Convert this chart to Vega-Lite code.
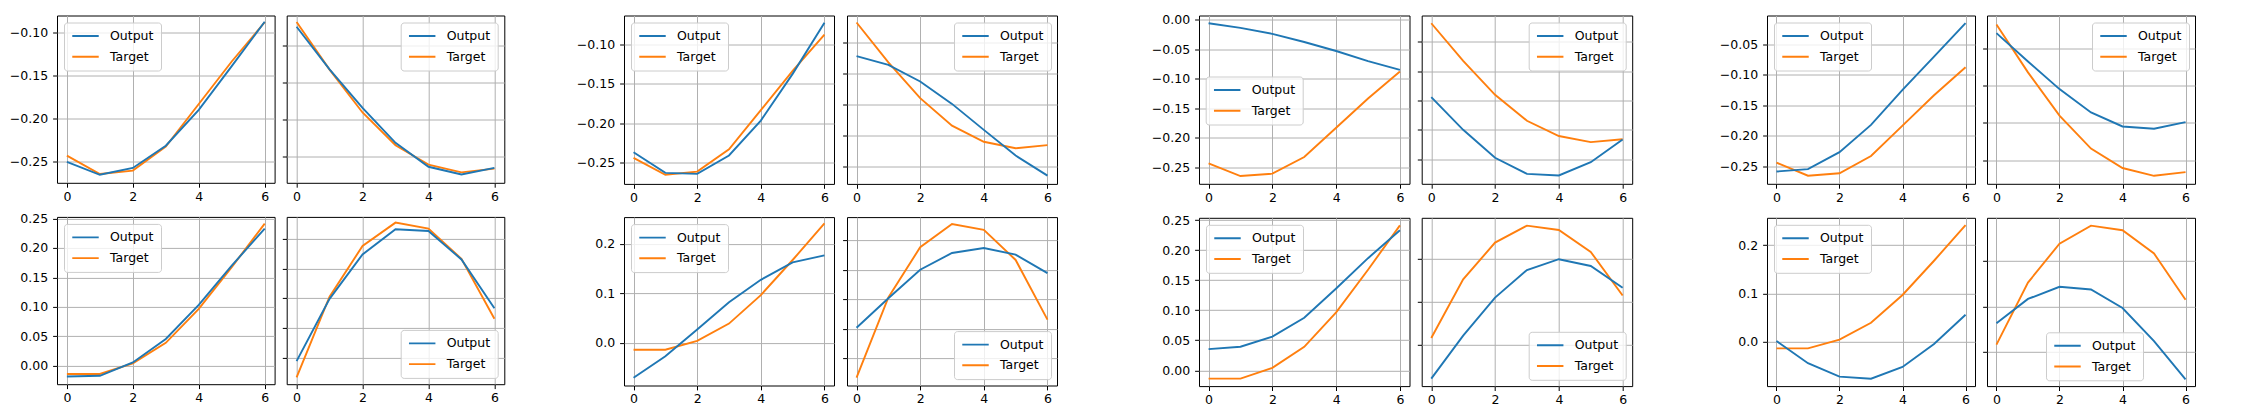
{
"$schema": "https://vega.github.io/schema/vega-lite/v6.json",
"padding": {"left": 0, "top": 12.5, "right": 5, "bottom": 5},
"data": {"values": [
{"g":0,"p":"TL","s":"Target","x":0,"y":-0.2437},{"g":0,"p":"TL","s":"Target","x":1,"y":-0.2651},{"g":0,"p":"TL","s":"Target","x":2,"y":-0.2611},{"g":0,"p":"TL","s":"Target","x":3,"y":-0.2329},{"g":0,"p":"TL","s":"Target","x":4,"y":-0.1832},{"g":0,"p":"TL","s":"Target","x":5,"y":-0.1335},{"g":0,"p":"TL","s":"Target","x":6,"y":-0.0876},
{"g":0,"p":"TR","s":"Target","x":0,"y":-0.0183},{"g":0,"p":"TR","s":"Target","x":1,"y":-0.0825},{"g":0,"p":"TR","s":"Target","x":2,"y":-0.1403},{"g":0,"p":"TR","s":"Target","x":3,"y":-0.1845},{"g":0,"p":"TR","s":"Target","x":4,"y":-0.2106},{"g":0,"p":"TR","s":"Target","x":5,"y":-0.221},{"g":0,"p":"TR","s":"Target","x":6,"y":-0.216},
{"g":0,"p":"BL","s":"Target","x":0,"y":-0.0139},{"g":0,"p":"BL","s":"Target","x":1,"y":-0.0139},{"g":0,"p":"BL","s":"Target","x":2,"y":0.0041},{"g":0,"p":"BL","s":"Target","x":3,"y":0.039},{"g":0,"p":"BL","s":"Target","x":4,"y":0.0966},{"g":0,"p":"BL","s":"Target","x":5,"y":0.1675},{"g":0,"p":"BL","s":"Target","x":6,"y":0.2413},
{"g":0,"p":"BR","s":"Target","x":0,"y":-0.0336},{"g":0,"p":"BR","s":"Target","x":1,"y":0.103},{"g":0,"p":"BR","s":"Target","x":2,"y":0.1887},{"g":0,"p":"BR","s":"Target","x":3,"y":0.2283},{"g":0,"p":"BR","s":"Target","x":4,"y":0.2182},{"g":0,"p":"BR","s":"Target","x":5,"y":0.167},{"g":0,"p":"BR","s":"Target","x":6,"y":0.0654},
{"g":1,"p":"TL","s":"Output","x":0,"y":-0.251},{"g":1,"p":"TL","s":"Output","x":1,"y":-0.266},{"g":1,"p":"TL","s":"Output","x":2,"y":-0.258},{"g":1,"p":"TL","s":"Output","x":3,"y":-0.232},{"g":1,"p":"TL","s":"Output","x":4,"y":-0.19},{"g":1,"p":"TL","s":"Output","x":5,"y":-0.139},{"g":1,"p":"TL","s":"Output","x":6,"y":-0.087},
{"g":1,"p":"TR","s":"Output","x":0,"y":-0.0248},{"g":1,"p":"TR","s":"Output","x":1,"y":-0.0823},{"g":1,"p":"TR","s":"Output","x":2,"y":-0.134},{"g":1,"p":"TR","s":"Output","x":3,"y":-0.1812},{"g":1,"p":"TR","s":"Output","x":4,"y":-0.2135},{"g":1,"p":"TR","s":"Output","x":5,"y":-0.2239},{"g":1,"p":"TR","s":"Output","x":6,"y":-0.2149},
{"g":1,"p":"BL","s":"Output","x":0,"y":-0.0182},{"g":1,"p":"BL","s":"Output","x":1,"y":-0.017},{"g":1,"p":"BL","s":"Output","x":2,"y":0.0057},{"g":1,"p":"BL","s":"Output","x":3,"y":0.0455},{"g":1,"p":"BL","s":"Output","x":4,"y":0.1034},{"g":1,"p":"BL","s":"Output","x":5,"y":0.17},{"g":1,"p":"BL","s":"Output","x":6,"y":0.233},
{"g":1,"p":"BR","s":"Output","x":0,"y":-0.0062},{"g":1,"p":"BR","s":"Output","x":1,"y":0.0992},{"g":1,"p":"BR","s":"Output","x":2,"y":0.1745},{"g":1,"p":"BR","s":"Output","x":3,"y":0.217},{"g":1,"p":"BR","s":"Output","x":4,"y":0.2142},{"g":1,"p":"BR","s":"Output","x":5,"y":0.166},{"g":1,"p":"BR","s":"Output","x":6,"y":0.0833},
{"g":2,"p":"TL","s":"Output","x":0,"y":-0.2365},{"g":2,"p":"TL","s":"Output","x":1,"y":-0.2627},{"g":2,"p":"TL","s":"Output","x":2,"y":-0.264},{"g":2,"p":"TL","s":"Output","x":3,"y":-0.2407},{"g":2,"p":"TL","s":"Output","x":4,"y":-0.1964},{"g":2,"p":"TL","s":"Output","x":5,"y":-0.1372},{"g":2,"p":"TL","s":"Output","x":6,"y":-0.0725},
{"g":2,"p":"TR","s":"Output","x":0,"y":-0.0726},{"g":2,"p":"TR","s":"Output","x":1,"y":-0.0866},{"g":2,"p":"TR","s":"Output","x":2,"y":-0.1134},{"g":2,"p":"TR","s":"Output","x":3,"y":-0.1495},{"g":2,"p":"TR","s":"Output","x":4,"y":-0.1914},{"g":2,"p":"TR","s":"Output","x":5,"y":-0.2328},{"g":2,"p":"TR","s":"Output","x":6,"y":-0.2651},
{"g":2,"p":"BL","s":"Output","x":0,"y":-0.0705},{"g":2,"p":"BL","s":"Output","x":1,"y":-0.0271},{"g":2,"p":"BL","s":"Output","x":2,"y":0.0271},{"g":2,"p":"BL","s":"Output","x":3,"y":0.082},{"g":2,"p":"BL","s":"Output","x":4,"y":0.1275},{"g":2,"p":"BL","s":"Output","x":5,"y":0.1627},{"g":2,"p":"BL","s":"Output","x":6,"y":0.177},
{"g":2,"p":"BR","s":"Output","x":0,"y":0.0514},{"g":2,"p":"BR","s":"Output","x":1,"y":0.1017},{"g":2,"p":"BR","s":"Output","x":2,"y":0.1503},{"g":2,"p":"BR","s":"Output","x":3,"y":0.1789},{"g":2,"p":"BR","s":"Output","x":4,"y":0.1874},{"g":2,"p":"BR","s":"Output","x":5,"y":0.176},{"g":2,"p":"BR","s":"Output","x":6,"y":0.1446},
{"g":3,"p":"TL","s":"Output","x":0,"y":-0.0057},{"g":3,"p":"TL","s":"Output","x":1,"y":-0.0136},{"g":3,"p":"TL","s":"Output","x":2,"y":-0.0238},{"g":3,"p":"TL","s":"Output","x":3,"y":-0.0376},{"g":3,"p":"TL","s":"Output","x":4,"y":-0.0529},{"g":3,"p":"TL","s":"Output","x":5,"y":-0.07},{"g":3,"p":"TL","s":"Output","x":6,"y":-0.0848},
{"g":3,"p":"TR","s":"Output","x":0,"y":-0.1443},{"g":3,"p":"TR","s":"Output","x":1,"y":-0.2},{"g":3,"p":"TR","s":"Output","x":2,"y":-0.2477},{"g":3,"p":"TR","s":"Output","x":3,"y":-0.275},{"g":3,"p":"TR","s":"Output","x":4,"y":-0.2778},{"g":3,"p":"TR","s":"Output","x":5,"y":-0.2551},{"g":3,"p":"TR","s":"Output","x":6,"y":-0.2165},
{"g":3,"p":"BL","s":"Output","x":0,"y":0.0353},{"g":3,"p":"BL","s":"Output","x":1,"y":0.0392},{"g":3,"p":"BL","s":"Output","x":2,"y":0.056},{"g":3,"p":"BL","s":"Output","x":3,"y":0.0874},{"g":3,"p":"BL","s":"Output","x":4,"y":0.1362},{"g":3,"p":"BL","s":"Output","x":5,"y":0.1867},{"g":3,"p":"BL","s":"Output","x":6,"y":0.2332},
{"g":3,"p":"BR","s":"Output","x":0,"y":-0.1284},{"g":3,"p":"BR","s":"Output","x":1,"y":-0.028},{"g":3,"p":"BR","s":"Output","x":2,"y":0.0606},{"g":3,"p":"BR","s":"Output","x":3,"y":0.1249},{"g":3,"p":"BR","s":"Output","x":4,"y":0.15},{"g":3,"p":"BR","s":"Output","x":5,"y":0.1343},{"g":3,"p":"BR","s":"Output","x":6,"y":0.0833},
{"g":4,"p":"TL","s":"Output","x":0,"y":-0.2582},{"g":4,"p":"TL","s":"Output","x":1,"y":-0.2544},{"g":4,"p":"TL","s":"Output","x":2,"y":-0.2266},{"g":4,"p":"TL","s":"Output","x":3,"y":-0.1819},{"g":4,"p":"TL","s":"Output","x":4,"y":-0.1247},{"g":4,"p":"TL","s":"Output","x":5,"y":-0.0702},{"g":4,"p":"TL","s":"Output","x":6,"y":-0.0157},
{"g":4,"p":"TR","s":"Output","x":0,"y":-0.0299},{"g":4,"p":"TR","s":"Output","x":1,"y":-0.0679},{"g":4,"p":"TR","s":"Output","x":2,"y":-0.1049},{"g":4,"p":"TR","s":"Output","x":3,"y":-0.1362},{"g":4,"p":"TR","s":"Output","x":4,"y":-0.1549},{"g":4,"p":"TR","s":"Output","x":5,"y":-0.158},{"g":4,"p":"TR","s":"Output","x":6,"y":-0.1491},
{"g":4,"p":"BL","s":"Output","x":0,"y":0.0014},{"g":4,"p":"BL","s":"Output","x":1,"y":-0.0446},{"g":4,"p":"BL","s":"Output","x":2,"y":-0.0725},{"g":4,"p":"BL","s":"Output","x":3,"y":-0.0767},{"g":4,"p":"BL","s":"Output","x":4,"y":-0.0523},{"g":4,"p":"BL","s":"Output","x":5,"y":-0.0049},{"g":4,"p":"BL","s":"Output","x":6,"y":0.0557},
{"g":4,"p":"BR","s":"Output","x":0,"y":0.0137},{"g":4,"p":"BR","s":"Output","x":1,"y":0.067},{"g":4,"p":"BR","s":"Output","x":2,"y":0.0937},{"g":4,"p":"BR","s":"Output","x":3,"y":0.0878},{"g":4,"p":"BR","s":"Output","x":4,"y":0.047},{"g":4,"p":"BR","s":"Output","x":5,"y":-0.0256},{"g":4,"p":"BR","s":"Output","x":6,"y":-0.11}
]},
"spacing": 0,
"resolve": {"scale": {"color": "independent"}, "legend": {"color": "independent"}},
"hconcat": [
{"columns": 2, "spacing": {"row": 33.4, "column": 11.7}, "bounds": "flush",
 "resolve": {"scale": {"color": "independent", "y": "independent"}, "legend": {"color": "independent"}},
 "concat": [
 {"width": 217.6, "height": 167.3, "transform": [{"filter": "datum.p=='TL' && (datum.g==0 || datum.g==1)"}], "mark": {"type": "line"},
  "encoding": {"x": {"field": "x", "type": "quantitative", "scale": {"domain": [-0.3, 6.3], "nice": false, "zero": false}, "axis": {"values": [0, 2, 4, 6], "format": "d", "title": null}},
   "y": {"field": "y", "type": "quantitative", "scale": {"domain": [-0.2754, -0.0797], "nice": false, "zero": false}, "axis": {"values": [-0.25, -0.2, -0.15, -0.1], "format": ".2f", "title": null, "minExtent": 55.7}},
   "color": {"field": "s", "type": "nominal", "scale": {"domain": ["Output", "Target"], "range": ["#1f77b4", "#ff7f0e"]}, "legend": {"title": null, "orient": "top-left"}}}},
 {"width": 217.6, "height": 167.3, "transform": [{"filter": "datum.p=='TR' && (datum.g==0 || datum.g==1)"}], "mark": {"type": "line"},
  "encoding": {"x": {"field": "x", "type": "quantitative", "scale": {"domain": [-0.3, 6.3], "nice": false, "zero": false}, "axis": {"values": [0, 2, 4, 6], "format": "d", "title": null}},
   "y": {"field": "y", "type": "quantitative", "scale": {"domain": [-0.2351, -0.0096], "nice": false, "zero": false}, "axis": {"values": [-0.2, -0.15, -0.1, -0.05], "labels": false, "title": null}},
   "color": {"field": "s", "type": "nominal", "scale": {"domain": ["Output", "Target"], "range": ["#1f77b4", "#ff7f0e"]}, "legend": {"title": null, "orient": "top-right"}}}},
 {"width": 217.6, "height": 167.3, "transform": [{"filter": "datum.p=='BL' && (datum.g==0 || datum.g==1)"}], "mark": {"type": "line"},
  "encoding": {"x": {"field": "x", "type": "quantitative", "scale": {"domain": [-0.3, 6.3], "nice": false, "zero": false}, "axis": {"values": [0, 2, 4, 6], "format": "d", "title": null}},
   "y": {"field": "y", "type": "quantitative", "scale": {"domain": [-0.0313, 0.2528], "nice": false, "zero": false}, "axis": {"values": [0, 0.05, 0.1, 0.15, 0.2, 0.25], "format": ".2f", "title": null, "minExtent": 55.7}},
   "color": {"field": "s", "type": "nominal", "scale": {"domain": ["Output", "Target"], "range": ["#1f77b4", "#ff7f0e"]}, "legend": {"title": null, "orient": "top-left"}}}},
 {"width": 217.6, "height": 167.3, "transform": [{"filter": "datum.p=='BR' && (datum.g==0 || datum.g==1)"}], "mark": {"type": "line"},
  "encoding": {"x": {"field": "x", "type": "quantitative", "scale": {"domain": [-0.3, 6.3], "nice": false, "zero": false}, "axis": {"values": [0, 2, 4, 6], "format": "d", "title": null}},
   "y": {"field": "y", "type": "quantitative", "scale": {"domain": [-0.0453, 0.238], "nice": false, "zero": false}, "axis": {"values": [0, 0.05, 0.1, 0.15, 0.2], "labels": false, "title": null}},
   "color": {"field": "s", "type": "nominal", "scale": {"domain": ["Output", "Target"], "range": ["#1f77b4", "#ff7f0e"]}, "legend": {"title": null, "orient": "bottom-right"}}}}
 ]},
{"columns": 2, "spacing": {"row": 32.6, "column": 13}, "bounds": "flush",
 "resolve": {"scale": {"color": "independent", "y": "independent"}, "legend": {"color": "independent"}},
 "concat": [
 {"width": 210, "height": 168.4, "transform": [{"filter": "datum.p=='TL' && (datum.g==0 || datum.g==2)"}], "mark": {"type": "line"},
  "encoding": {"x": {"field": "x", "type": "quantitative", "scale": {"domain": [-0.3, 6.3], "nice": false, "zero": false}, "axis": {"values": [0, 2, 4, 6], "format": "d", "title": null}},
   "y": {"field": "y", "type": "quantitative", "scale": {"domain": [-0.2767, -0.0632], "nice": false, "zero": false}, "axis": {"values": [-0.25, -0.2, -0.15, -0.1], "format": ".2f", "title": null, "minExtent": 117.8}},
   "color": {"field": "s", "type": "nominal", "scale": {"domain": ["Output", "Target"], "range": ["#1f77b4", "#ff7f0e"]}, "legend": {"title": null, "orient": "top-left"}}}},
 {"width": 210, "height": 168.4, "transform": [{"filter": "datum.p=='TR' && (datum.g==0 || datum.g==2)"}], "mark": {"type": "line"},
  "encoding": {"x": {"field": "x", "type": "quantitative", "scale": {"domain": [-0.3, 6.3], "nice": false, "zero": false}, "axis": {"values": [0, 2, 4, 6], "format": "d", "title": null}},
   "y": {"field": "y", "type": "quantitative", "scale": {"domain": [-0.2785, -0.007], "nice": false, "zero": false}, "axis": {"values": [-0.25, -0.2, -0.15, -0.1, -0.05], "labels": false, "title": null}},
   "color": {"field": "s", "type": "nominal", "scale": {"domain": ["Output", "Target"], "range": ["#1f77b4", "#ff7f0e"]}, "legend": {"title": null, "orient": "top-right"}}}},
 {"width": 210, "height": 168.4, "transform": [{"filter": "datum.p=='BL' && (datum.g==0 || datum.g==2)"}], "mark": {"type": "line"},
  "encoding": {"x": {"field": "x", "type": "quantitative", "scale": {"domain": [-0.3, 6.3], "nice": false, "zero": false}, "axis": {"values": [0, 2, 4, 6], "format": "d", "title": null}},
   "y": {"field": "y", "type": "quantitative", "scale": {"domain": [-0.0861, 0.2542], "nice": false, "zero": false}, "axis": {"values": [0, 0.1, 0.2], "format": ".1f", "title": null, "minExtent": 117.8}},
   "color": {"field": "s", "type": "nominal", "scale": {"domain": ["Output", "Target"], "range": ["#1f77b4", "#ff7f0e"]}, "legend": {"title": null, "orient": "top-left"}}}},
 {"width": 210, "height": 168.4, "transform": [{"filter": "datum.p=='BR' && (datum.g==0 || datum.g==2)"}], "mark": {"type": "line"},
  "encoding": {"x": {"field": "x", "type": "quantitative", "scale": {"domain": [-0.3, 6.3], "nice": false, "zero": false}, "axis": {"values": [0, 2, 4, 6], "format": "d", "title": null}},
   "y": {"field": "y", "type": "quantitative", "scale": {"domain": [-0.0469, 0.24], "nice": false, "zero": false}, "axis": {"values": [0, 0.05, 0.1, 0.15, 0.2], "labels": false, "title": null}},
   "color": {"field": "s", "type": "nominal", "scale": {"domain": ["Output", "Target"], "range": ["#1f77b4", "#ff7f0e"]}, "legend": {"title": null, "orient": "bottom-right"}}}}
 ]},
{"columns": 2, "spacing": {"row": 33.3, "column": 11.7}, "bounds": "flush",
 "resolve": {"scale": {"color": "independent", "y": "independent"}, "legend": {"color": "independent"}},
 "concat": [
 {"width": 210.5, "height": 168.3, "transform": [{"filter": "datum.p=='TL' && (datum.g==0 || datum.g==3)"}], "mark": {"type": "line"},
  "encoding": {"x": {"field": "x", "type": "quantitative", "scale": {"domain": [-0.3, 6.3], "nice": false, "zero": false}, "axis": {"values": [0, 2, 4, 6], "format": "d", "title": null}},
   "y": {"field": "y", "type": "quantitative", "scale": {"domain": [-0.2783, 0.0074], "nice": false, "zero": false}, "axis": {"values": [-0.25, -0.2, -0.15, -0.1, -0.05, 0], "format": ".2f", "title": null, "minExtent": 140.5}},
   "color": {"field": "s", "type": "nominal", "scale": {"domain": ["Output", "Target"], "range": ["#1f77b4", "#ff7f0e"]}, "legend": {"title": null, "orient": "none", "legendX": 6.7, "legendY": 61}}}},
 {"width": 210.5, "height": 168.3, "transform": [{"filter": "datum.p=='TR' && (datum.g==0 || datum.g==3)"}], "mark": {"type": "line"},
  "encoding": {"x": {"field": "x", "type": "quantitative", "scale": {"domain": [-0.3, 6.3], "nice": false, "zero": false}, "axis": {"values": [0, 2, 4, 6], "format": "d", "title": null}},
   "y": {"field": "y", "type": "quantitative", "scale": {"domain": [-0.292, -0.0051], "nice": false, "zero": false}, "axis": {"values": [-0.25, -0.2, -0.15, -0.1, -0.05], "labels": false, "title": null}},
   "color": {"field": "s", "type": "nominal", "scale": {"domain": ["Output", "Target"], "range": ["#1f77b4", "#ff7f0e"]}, "legend": {"title": null, "orient": "top-right"}}}},
 {"width": 210.5, "height": 168.3, "transform": [{"filter": "datum.p=='BL' && (datum.g==0 || datum.g==3)"}], "mark": {"type": "line"},
  "encoding": {"x": {"field": "x", "type": "quantitative", "scale": {"domain": [-0.3, 6.3], "nice": false, "zero": false}, "axis": {"values": [0, 2, 4, 6], "format": "d", "title": null}},
   "y": {"field": "y", "type": "quantitative", "scale": {"domain": [-0.0263, 0.2539], "nice": false, "zero": false}, "axis": {"values": [0, 0.05, 0.1, 0.15, 0.2, 0.25], "format": ".2f", "title": null, "minExtent": 140.5}},
   "color": {"field": "s", "type": "nominal", "scale": {"domain": ["Output", "Target"], "range": ["#1f77b4", "#ff7f0e"]}, "legend": {"title": null, "orient": "top-left"}}}},
 {"width": 210.5, "height": 168.3, "transform": [{"filter": "datum.p=='BR' && (datum.g==0 || datum.g==3)"}], "mark": {"type": "line"},
  "encoding": {"x": {"field": "x", "type": "quantitative", "scale": {"domain": [-0.3, 6.3], "nice": false, "zero": false}, "axis": {"values": [0, 2, 4, 6], "format": "d", "title": null}},
   "y": {"field": "y", "type": "quantitative", "scale": {"domain": [-0.1457, 0.2465], "nice": false, "zero": false}, "axis": {"values": [-0.05, 0.05, 0.15], "labels": false, "title": null}},
   "color": {"field": "s", "type": "nominal", "scale": {"domain": ["Output", "Target"], "range": ["#1f77b4", "#ff7f0e"]}, "legend": {"title": null, "orient": "bottom-right"}}}}
 ]},
{"columns": 2, "spacing": {"row": 33.3, "column": 12}, "bounds": "flush",
 "resolve": {"scale": {"color": "independent", "y": "independent"}, "legend": {"color": "independent"}},
 "concat": [
 {"width": 208, "height": 168.3, "transform": [{"filter": "datum.p=='TL' && (datum.g==0 || datum.g==4)"}], "mark": {"type": "line"},
  "encoding": {"x": {"field": "x", "type": "quantitative", "scale": {"domain": [-0.3, 6.3], "nice": false, "zero": false}, "axis": {"values": [0, 2, 4, 6], "format": "d", "title": null}},
   "y": {"field": "y", "type": "quantitative", "scale": {"domain": [-0.2783, -0.0031], "nice": false, "zero": false}, "axis": {"values": [-0.25, -0.2, -0.15, -0.1, -0.05], "format": ".2f", "title": null, "minExtent": 132.9}},
   "color": {"field": "s", "type": "nominal", "scale": {"domain": ["Output", "Target"], "range": ["#1f77b4", "#ff7f0e"]}, "legend": {"title": null, "orient": "top-left"}}}},
 {"width": 208, "height": 168.3, "transform": [{"filter": "datum.p=='TR' && (datum.g==0 || datum.g==4)"}], "mark": {"type": "line"},
  "encoding": {"x": {"field": "x", "type": "quantitative", "scale": {"domain": [-0.3, 6.3], "nice": false, "zero": false}, "axis": {"values": [0, 2, 4, 6], "format": "d", "title": null}},
   "y": {"field": "y", "type": "quantitative", "scale": {"domain": [-0.2317, -0.0063], "nice": false, "zero": false}, "axis": {"values": [-0.2, -0.15, -0.1, -0.05], "labels": false, "title": null}},
   "color": {"field": "s", "type": "nominal", "scale": {"domain": ["Output", "Target"], "range": ["#1f77b4", "#ff7f0e"]}, "legend": {"title": null, "orient": "top-right"}}}},
 {"width": 208, "height": 168.3, "transform": [{"filter": "datum.p=='BL' && (datum.g==0 || datum.g==4)"}], "mark": {"type": "line"},
  "encoding": {"x": {"field": "x", "type": "quantitative", "scale": {"domain": [-0.3, 6.3], "nice": false, "zero": false}, "axis": {"values": [0, 2, 4, 6], "format": "d", "title": null}},
   "y": {"field": "y", "type": "quantitative", "scale": {"domain": [-0.092, 0.2564], "nice": false, "zero": false}, "axis": {"values": [0, 0.1, 0.2], "format": ".1f", "title": null, "minExtent": 132.9}},
   "color": {"field": "s", "type": "nominal", "scale": {"domain": ["Output", "Target"], "range": ["#1f77b4", "#ff7f0e"]}, "legend": {"title": null, "orient": "top-left"}}}},
 {"width": 208, "height": 168.3, "transform": [{"filter": "datum.p=='BR' && (datum.g==0 || datum.g==4)"}], "mark": {"type": "line"},
  "encoding": {"x": {"field": "x", "type": "quantitative", "scale": {"domain": [-0.3, 6.3], "nice": false, "zero": false}, "axis": {"values": [0, 2, 4, 6], "format": "d", "title": null}},
   "y": {"field": "y", "type": "quantitative", "scale": {"domain": [-0.1248, 0.2456], "nice": false, "zero": false}, "axis": {"values": [-0.05, 0.05, 0.15], "labels": false, "title": null}},
   "color": {"field": "s", "type": "nominal", "scale": {"domain": ["Output", "Target"], "range": ["#1f77b4", "#ff7f0e"]}, "legend": {"title": null, "orient": "none", "legendX": 59, "legendY": 114.5}}}}
 ]}
],
"config": {
 "font": "DejaVu Sans",
 "view": {"stroke": "black", "strokeWidth": 1},
 "line": {"strokeWidth": 1.9},
 "axis": {"domain": false, "grid": true, "gridColor": "#b0b0b0", "gridWidth": 1, "gridOpacity": 1, "ticks": true, "tickColor": "black", "tickSize": 4.4, "tickWidth": 1, "labelFont": "DejaVu Sans", "labelFontSize": 12.5, "labelColor": "black", "labelFlush": false, "labelOverlap": false, "labelPadding": 4},
 "axisX": {"labelPadding": 3},
 "axisY": {"labelPadding": 5},
 "legend": {"padding": 7, "rowPadding": 7.7, "clipHeight": 13, "offset": 6.5, "fillColor": "rgba(255,255,255,0.8)", "strokeColor": "#cccccc", "cornerRadius": 3, "labelFont": "DejaVu Sans", "labelFontSize": 12.5, "labelColor": "black", "symbolType": "stroke", "symbolSize": 700, "symbolStrokeWidth": 1.9, "labelOffset": 10}
}
}
